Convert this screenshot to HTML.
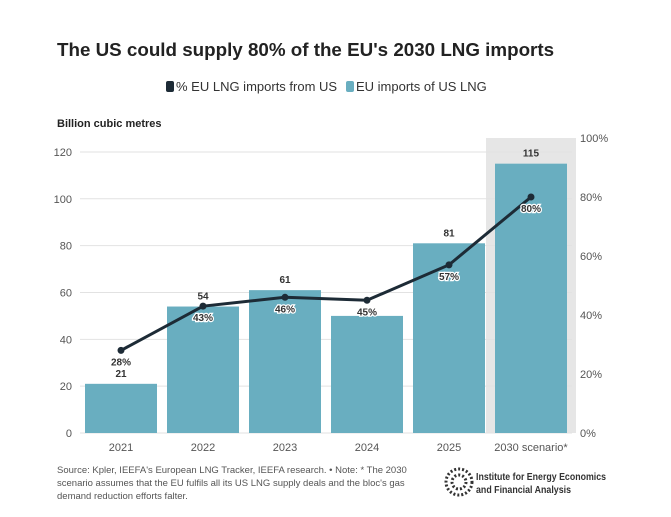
<!DOCTYPE html>
<html><head><meta charset="utf-8"><style>
body{margin:0;background:#fff;font-family:"Liberation Sans",sans-serif;}
svg text{font-family:"Liberation Sans",sans-serif;}
</style></head><body>
<svg width="671" height="512" viewBox="0 0 671 512">
<text x="57" y="56" font-size="18.8" font-weight="bold" fill="#222">The US could supply 80% of the EU's 2030 LNG imports</text>
<g>
<g><rect x="166" y="81" width="8" height="11" rx="2" fill="#1d2b36"/><text x="176" y="91" font-size="13" fill="#333">% EU LNG imports from US</text></g>
<g><rect x="346" y="81" width="8" height="11" rx="2" fill="#69aec0"/><text x="356" y="91" font-size="13" fill="#333">EU imports of US LNG</text></g>
</g>
<text x="57" y="127" font-size="11" font-weight="bold" fill="#222">Billion cubic metres</text>
<g id="grid"></g><g id="bars"></g><g id="line"></g><g id="axes"></g>
<text x="57" y="473" font-size="9.5" fill="#555"><tspan x="57">Source: Kpler, IEEFA's European LNG Tracker, IEEFA research. • Note: * The 2030</tspan><tspan x="57" dy="13">scenario assumes that the EU fulfils all its US LNG supply deals and the bloc's gas</tspan><tspan x="57" dy="13">demand reduction efforts falter.</tspan></text>
<g><circle cx="459" cy="482" r="13" fill="#fff" stroke="#333" stroke-width="3" stroke-dasharray="2 2"/><circle cx="459" cy="482" r="7" fill="none" stroke="#333" stroke-width="3" stroke-dasharray="2 2"/>
<text x="476" y="480" font-size="10.5" font-weight="bold" fill="#333" textLength="130" lengthAdjust="spacingAndGlyphs">Institute for Energy Economics</text><text x="476" y="493" font-size="10.5" font-weight="bold" fill="#333" textLength="95" lengthAdjust="spacingAndGlyphs">and Financial Analysis</text></g>
</svg>
<script>
const categories=["2021","2022","2023","2024","2025","2030 scenario*"];
const bcmValues=[21,54,61,50,81,115];
const pctValues=[28,43,46,45,57,80];
const leftTicks=[0,20,40,60,80,100,120];
const rightTicks=[0,20,40,60,80,100];
const NS="http://www.w3.org/2000/svg";
const x0=80,band=82,base=433;
const yL=v=>base-v*2.342, yR=v=>base-v*2.95, xc=i=>x0+band*i+band/2;
function mk(p,t,a){const e=document.createElementNS(NS,t);for(const k in a)e.setAttribute(k,a[k]);document.getElementById(p).appendChild(e);return e;}
function tx(p,x,y,s,a){const e=mk(p,'text',Object.assign({x:x,y:y},a));e.textContent=s;return e;}
const hl=mk('grid','rect',{x:x0+band*5-4,y:138,width:band+8,height:base-138,fill:'#e6e6e6'});


leftTicks.forEach(v=>{const l=mk('grid','line',{x1:x0,x2:572,y1:yL(v),y2:yL(v),stroke:'#e2e2e2'});


const t=tx('axes',72,yL(v)+4,v,{'font-size':11,fill:'#555','text-anchor':'end'});

});
rightTicks.forEach(v=>{const t=tx('axes',580,yR(v)+4,v+'%',{'font-size':11,fill:'#555'});

});
categories.forEach((c,i)=>{const t=tx('axes',xc(i),451,c,{'font-size':11,fill:'#555','text-anchor':'middle'});


const b=mk('bars','rect',{x:xc(i)-36,y:yL(bcmValues[i]),width:72,height:base-yL(bcmValues[i]),fill:'#69aec0'});


const vy=yL(bcmValues[i])-7, py=yR(pctValues[i])+15;
if(Math.abs(vy-py)>=8){
const v=tx('bars',xc(i),vy,bcmValues[i],{'font-size':10,'font-weight':'bold',fill:'#333','text-anchor':'middle'});

}});
const pl=mk('line','polyline',{points:pctValues.map((p,i)=>xc(i)+','+yR(p)).join(' '),fill:'none',stroke:'#1d2b36','stroke-width':3});


pctValues.forEach((p,i)=>{const c=mk('line','circle',{cx:xc(i),cy:yR(p),r:3.5,fill:'#1d2b36'});


const t=tx('line',xc(i),yR(p)+15,p+'%',{'font-size':10,'font-weight':'bold',fill:'#333','text-anchor':'middle',stroke:'#fff','stroke-width':2.5,'paint-order':'stroke'});

});
</script>
</body></html>
